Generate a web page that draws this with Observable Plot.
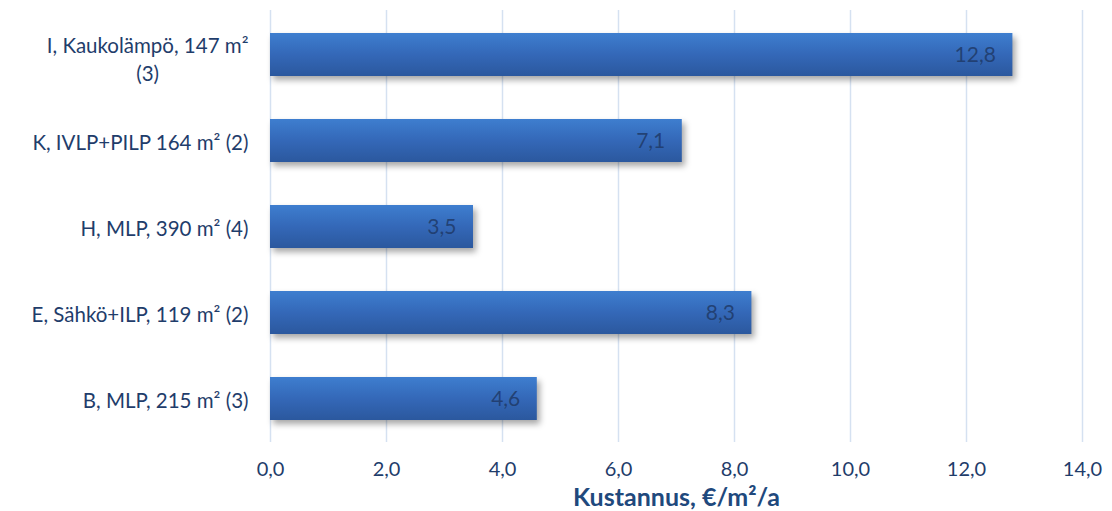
<!DOCTYPE html>
<html><head><meta charset="utf-8">
<script src="https://cdn.jsdelivr.net/npm/d3@7"></script>
<script src="https://cdn.jsdelivr.net/npm/@observablehq/plot@0.6"></script>
<style>
html,body{margin:0;padding:0;background:#fff;}
.bars rect{filter:drop-shadow(3px 4px 3px rgba(0,0,0,0.35));}
</style>
</head><body>
<div id="chart"></div>
<script>
const categories = [
  "I, Kaukolämpö, 147 m²\n(3)",
  "K, IVLP+PILP 164 m² (2)",
  "H, MLP, 390 m² (4)",
  "E, Sähkö+ILP, 119 m² (2)",
  "B, MLP, 215 m² (3)"
];
const values = [12.8, 7.1, 3.5, 8.3, 4.6];
const xTicks = [0, 2, 4, 6, 8, 10, 12, 14];
const axisTitle = "Kustannus, €/m²/a";

const data = categories.map((c, i) => ({cat: c, v: values[i]}));
const fmt = v => v.toFixed(1).replace(".", ",");
const textColor = "#1f3d6b";

const gradient = () => {
  const ns = "http://www.w3.org/2000/svg";
  const defs = document.createElementNS(ns, "defs");
  defs.innerHTML = `<linearGradient id="barGrad" x1="0" y1="0" x2="0" y2="1">
    <stop offset="0" stop-color="#3e7ecf"/>
    <stop offset="0.5" stop-color="#3468b8"/>
    <stop offset="1" stop-color="#2b589e"/>
  </linearGradient>`;
  return defs;
};

const chart = Plot.plot({
  width: 1112,
  height: 511,
  marginLeft: 270,
  marginRight: 30,
  marginTop: 10,
  marginBottom: 69,
  style: {fontFamily: "Lato, 'Open Sans', sans-serif", fontSize: "20px", color: textColor, background: "#fff"},
  x: {domain: [0, 14], label: null},
  y: {domain: categories, paddingInner: 0.5, paddingOuter: 0.25, label: null},
  marks: [
    gradient,
    Plot.gridX(xTicks, {stroke: "#d5e1f1", strokeOpacity: 1, strokeWidth: 1.5}),
    Plot.axisX(xTicks, {tickFormat: fmt, tickSize: 0, tickPadding: 19, fontSize: 20, fill: textColor, label: axisTitle, labelAnchor: "center", labelArrow: "none", labelOffset: 63}),
    Plot.axisY({tickSize: 0, tickPadding: 22, fontSize: 20.5, fill: textColor, textAnchor: "end", lineHeight: 1.37}),
    Plot.barX(data, {x: "v", y: "cat", fill: "url(#barGrad)", className: "bars"}),
    Plot.text(data, {x: "v", y: "cat", text: d => fmt(d.v), textAnchor: "end", dx: -17, fontSize: 21, fill: "#1f3a68", fillOpacity: 0.85})
  ]
});
document.getElementById("chart").appendChild(chart);

// center the multi-line category label like the original
chart.querySelectorAll("[aria-label='y-axis tick label'] text").forEach(t => {
  const spans = t.querySelectorAll("tspan");
  if (spans.length > 1) {
    const bb = t.getBBox();
    t.setAttribute("text-anchor", "middle");
    spans.forEach(ts => ts.setAttribute("x", bb.x + bb.width / 2));
    const tr = t.getAttribute("transform") || "";
    t.setAttribute("transform", tr + " translate(0,3)");
  }
});
// title style
chart.querySelectorAll("[aria-label='x-axis label'] text").forEach(t => {
  t.style.fontWeight = "bold";
  t.style.fontSize = "25px";
  t.setAttribute("fill", "#1f497d");
});
</script>
</body></html>
